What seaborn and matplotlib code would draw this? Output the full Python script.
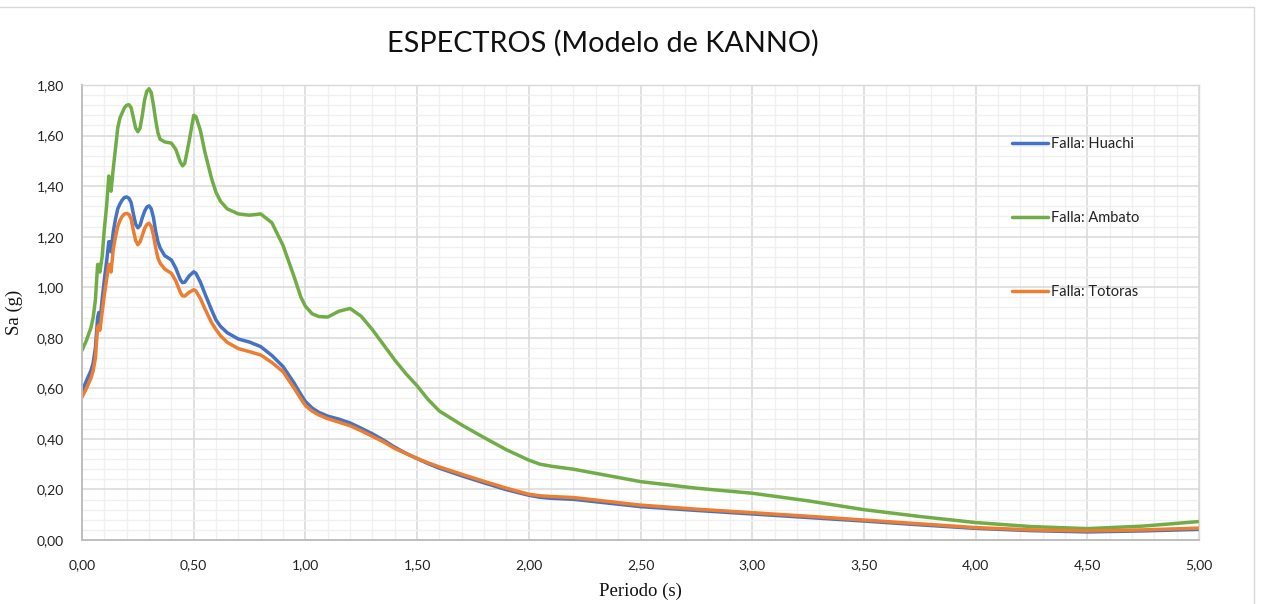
import matplotlib
matplotlib.use("Agg")
import matplotlib.pyplot as plt
import seaborn as sns
import pandas as pd
from matplotlib.ticker import MultipleLocator, FuncFormatter
from matplotlib.patches import Rectangle

# ---- data ----
periodo = [0.00, 0.02, 0.04, 0.05, 0.06, 0.07, 0.075, 0.08, 0.09, 0.10,
           0.11, 0.12, 0.125, 0.13, 0.14, 0.15, 0.16, 0.17, 0.18, 0.19,
           0.20, 0.21, 0.22, 0.23, 0.24, 0.25, 0.26, 0.27, 0.28, 0.29,
           0.30, 0.31, 0.32, 0.33, 0.34, 0.35, 0.37, 0.40, 0.42, 0.44,
           0.45, 0.46, 0.48, 0.50, 0.51, 0.53, 0.55, 0.58, 0.60, 0.62,
           0.65, 0.70, 0.75, 0.80, 0.85, 0.90, 0.95, 0.98, 1.00, 1.03,
           1.06, 1.10, 1.15, 1.20, 1.25, 1.30, 1.35, 1.40, 1.45, 1.50,
           1.55, 1.60, 1.70, 1.80, 1.90, 2.00, 2.05, 2.10, 2.20, 2.50,
           2.75, 3.00, 3.25, 3.50, 3.75, 4.00, 4.25, 4.50, 4.75, 5.00]

huachi = [0.59, 0.63, 0.67, 0.70, 0.76, 0.88, 0.90, 0.86, 0.95, 1.03,
          1.10, 1.18, 1.18, 1.14, 1.22, 1.27, 1.31, 1.33, 1.345, 1.355,
          1.357, 1.352, 1.335, 1.29, 1.25, 1.235, 1.245, 1.275, 1.30, 1.317,
          1.322, 1.31, 1.275, 1.22, 1.18, 1.155, 1.125, 1.108, 1.075, 1.03,
          1.018, 1.02, 1.045, 1.061, 1.055, 1.02, 0.975, 0.91, 0.87, 0.845,
          0.82, 0.795, 0.783, 0.765, 0.73, 0.686, 0.62, 0.575, 0.548, 0.522,
          0.505, 0.49, 0.478, 0.463, 0.442, 0.42, 0.395, 0.367, 0.343, 0.322,
          0.302, 0.284, 0.254, 0.226, 0.199, 0.177, 0.169, 0.165, 0.161, 0.132,
          0.117, 0.103, 0.089, 0.075, 0.060, 0.046, 0.037, 0.032, 0.036, 0.042]

ambato = [0.75, 0.79, 0.84, 0.88, 0.95, 1.09, 1.09, 1.06, 1.12, 1.23,
          1.32, 1.44, 1.43, 1.38, 1.47, 1.55, 1.63, 1.67, 1.69, 1.71,
          1.72, 1.722, 1.71, 1.67, 1.63, 1.615, 1.63, 1.68, 1.74, 1.775,
          1.785, 1.77, 1.72, 1.66, 1.61, 1.585, 1.575, 1.57, 1.545, 1.495,
          1.48, 1.49, 1.58, 1.68, 1.675, 1.62, 1.535, 1.43, 1.375, 1.34,
          1.31, 1.29, 1.285, 1.29, 1.255, 1.165, 1.04, 0.96, 0.925, 0.895,
          0.884, 0.882, 0.905, 0.916, 0.885, 0.832, 0.772, 0.712, 0.658, 0.61,
          0.555, 0.51, 0.455, 0.405, 0.357, 0.316, 0.30, 0.292, 0.28, 0.231,
          0.205, 0.185, 0.155, 0.12, 0.093, 0.069, 0.053, 0.045, 0.055, 0.073]

totoras = [0.565, 0.60, 0.64, 0.67, 0.72, 0.84, 0.85, 0.83, 0.90, 0.97,
           1.03, 1.09, 1.09, 1.06, 1.15, 1.20, 1.24, 1.265, 1.28, 1.29,
           1.292, 1.288, 1.27, 1.225, 1.185, 1.168, 1.18, 1.205, 1.232, 1.248,
           1.253, 1.24, 1.205, 1.155, 1.115, 1.095, 1.072, 1.055, 1.025, 0.98,
           0.966, 0.965, 0.98, 0.99, 0.985, 0.955, 0.915, 0.86, 0.832, 0.808,
           0.782, 0.757, 0.745, 0.732, 0.702, 0.666, 0.60, 0.558, 0.532, 0.51,
           0.495, 0.48, 0.466, 0.452, 0.432, 0.41, 0.388, 0.362, 0.342, 0.323,
           0.305, 0.289, 0.26, 0.232, 0.205, 0.181, 0.175, 0.172, 0.168, 0.138,
           0.122, 0.108, 0.094, 0.079, 0.064, 0.049, 0.040, 0.036, 0.040, 0.047]

series_names = ["Falla: Huachi", "Falla: Ambato", "Falla: Totoras"]
colors = ["#4472C4", "#70AD47", "#ED7D31"]

df = pd.concat([
    pd.DataFrame({"Periodo": periodo, "Sa": vals, "Serie": name})
    for name, vals in zip(series_names, [huachi, ambato, totoras])
], ignore_index=True)

# ---- figure ----
sns.set_theme(style="white")
plt.rcParams["font.family"] = ["Lato", "DejaVu Sans"]

fig = plt.figure(figsize=(12.61, 6.04), dpi=100)
ax = fig.add_axes([82/1261, 64/604, (1199-82)/1261, (540-85)/604])

# chart outer border (Excel chart area)
fig.patches.append(Rectangle((-0.01, -0.05), 1254/1261 + 0.01, (604-7)/604 + 0.05,
                             transform=fig.transFigure, fill=False,
                             edgecolor="#d9d9d9", linewidth=1.0, zorder=0))

sns.lineplot(data=df, x="Periodo", y="Sa", hue="Serie", hue_order=series_names,
             palette=colors, linewidth=2.5, ax=ax, sort=False, legend=False,
             solid_joinstyle="round", solid_capstyle="round")

ax.set_xlim(0, 5)
ax.set_ylim(0, 1.8)
ax.xaxis.set_major_locator(MultipleLocator(0.5))
ax.xaxis.set_minor_locator(MultipleLocator(0.1))
ax.yaxis.set_major_locator(MultipleLocator(0.2))
ax.yaxis.set_minor_locator(MultipleLocator(0.04))
fmt = FuncFormatter(lambda v, p: f"{v:.2f}".replace(".", ","))
ax.xaxis.set_major_formatter(fmt)
ax.yaxis.set_major_formatter(fmt)

ax.grid(which="major", color="#d9d9d9", linewidth=1.1)
ax.grid(which="minor", color="#f0f0f0", linewidth=1.0)
ax.set_axisbelow(True)
ax.tick_params(which="both", length=0)
ax.tick_params(axis="y", pad=13, labelsize=10)
ax.tick_params(axis="x", pad=14, labelsize=10)
for lbl in ax.get_xticklabels() + ax.get_yticklabels():
    lbl.set_color("#222222")

for side in ["top", "right"]:
    ax.spines[side].set_color("#d9d9d9")
    ax.spines[side].set_linewidth(1.0)
for side in ["left", "bottom"]:
    ax.spines[side].set_color("#bfbfbf")
    ax.spines[side].set_linewidth(1.4)

ax.set_xlabel("Periodo (s)", family="Liberation Serif", fontsize=13.5,
              color="#111111", labelpad=8)
ax.set_ylabel("Sa (g)", family="Liberation Serif", fontsize=13.5,
              color="#111111", labelpad=10)

fig.text(603/1261, 1 - 43/604, "ESPECTROS (Modelo de KANNO)", ha="center",
         va="center", fontsize=20.8, color="#111111")

handles = ax.get_lines()[:3]
leg = ax.legend(handles, series_names, loc="upper left",
                bbox_to_anchor=((1012-82)/1117, (540-137)/455),
                frameon=False, fontsize=10.5, labelspacing=4.12,
                handlelength=2.45, handletextpad=0.25, borderpad=0,
                borderaxespad=0)
for t in leg.get_texts():
    t.set_color("#222222")

fig.savefig("out.png", dpi=100)
